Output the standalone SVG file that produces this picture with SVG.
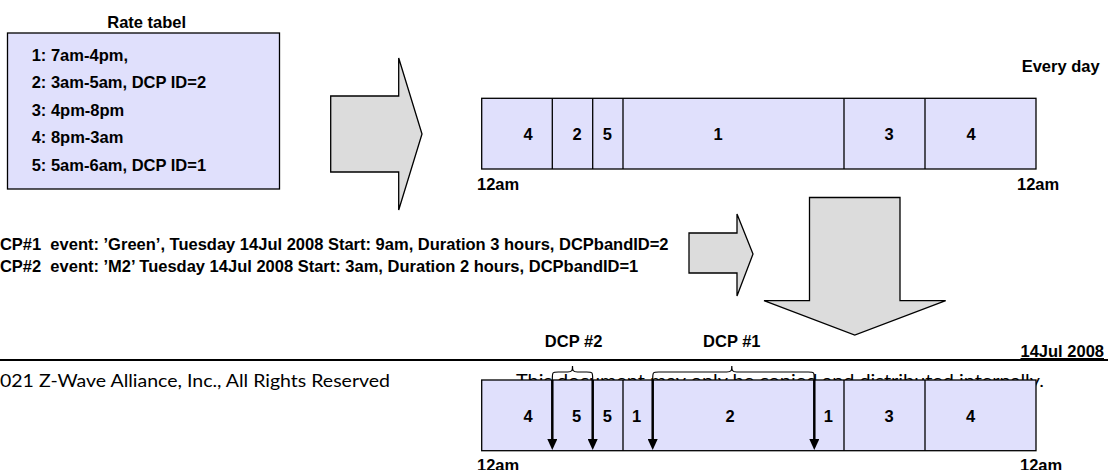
<svg xmlns="http://www.w3.org/2000/svg" width="1108" height="470" viewBox="0 0 1108 470">
  <defs>
    <style>
      .b{font-family:"Liberation Sans",Arial,sans-serif;font-weight:bold;font-size:16.5px;fill:#000}
      .c{text-anchor:middle}
      .e{text-anchor:end}
      .pre{white-space:pre}
      .f{font-family:Lato,"Open Sans",sans-serif;font-size:17px;fill:#000}
      .box{fill:#e0e0fc;stroke:#000;stroke-width:1.3}
      .arw{fill:#dcdcdc;stroke:#000;stroke-width:1.3;stroke-linejoin:miter}
      .seg{stroke:#000;stroke-width:1.3;fill:none}
      .ptr{stroke:#000;stroke-width:2.5;fill:none;marker-end:url(#head)}
      .brace{stroke:#000;stroke-width:1.2;fill:none}
    </style>
    <marker id="head" viewBox="0 0 10 11" refX="5" refY="6" markerWidth="10" markerHeight="11" markerUnits="userSpaceOnUse" orient="0">
      <path d="M0,0 L10,0 L5,11 Z" fill="#000"/>
    </marker>
  </defs>

  <!-- page header rule and footer texts -->
  <g id="page">
    <line x1="0" y1="360" x2="1108" y2="360" stroke="#000" stroke-width="2"/>
    <text class="b e" x="1104" y="357" text-decoration="underline">14Jul 2008</text>
    <text class="f" x="0" y="387" textLength="390" lengthAdjust="spacingAndGlyphs">021 Z-Wave Alliance, Inc., All Rights Reserved</text>
    <text class="f" x="516" y="387" textLength="528" lengthAdjust="spacingAndGlyphs">This document may only be copied and distributed internally.</text>
  </g>

  <!-- rate table -->
  <g id="rate-table">
    <text class="b c" x="146.7" y="28">Rate tabel</text>
    <rect class="box" x="7.5" y="33" width="272" height="156"/>
    <text class="b" x="31.7" y="61">1: 7am-4pm,</text>
    <text class="b" x="31.7" y="88">2: 3am-5am, DCP ID=2</text>
    <text class="b" x="31.7" y="116">3: 4pm-8pm</text>
    <text class="b" x="31.7" y="143">4: 8pm-3am</text>
    <text class="b" x="31.7" y="171">5: 5am-6am, DCP ID=1</text>
  </g>

  <!-- block arrows -->
  <g id="arrow-right-large">
    <path class="arw" d="M330.7,96 L398.7,96 L398.7,58 L422,134 L398.7,210 L398.7,172 L330.7,172 Z"/>
  </g>
  <g id="arrow-right-small">
    <path class="arw" d="M689,233 L737,233 L737,214 L753,254 L737,296 L737,273 L689,273 Z"/>
  </g>
  <g id="arrow-down">
    <path class="arw" d="M809.5,197.5 L900,197.5 L900,300.7 L945.7,300.7 L854.75,335 L764,300.7 L809.5,300.7 Z"/>
  </g>

  <!-- every-day schedule -->
  <g id="daily-bar">
    <text class="b" x="1021.7" y="72">Every day</text>
    <rect class="box" x="481.7" y="98.3" width="554.3" height="70.7"/>
    <path class="seg" d="M552.3,98.3V169M592.7,98.3V169M623,98.3V169M844,98.3V169M925,98.3V169"/>
    <text class="b c" x="528" y="140">4</text>
    <text class="b c" x="577" y="140">2</text>
    <text class="b c" x="607.3" y="140">5</text>
    <text class="b c" x="718" y="140">1</text>
    <text class="b c" x="889" y="140">3</text>
    <text class="b c" x="971" y="140">4</text>
    <text class="b" x="477" y="190">12am</text>
    <text class="b" x="1017" y="190">12am</text>
  </g>

  <!-- event descriptions -->
  <g id="events">
    <text class="b pre" x="-12" y="250">DCP#1  event: ’Green’, Tuesday 14Jul 2008 Start: 9am, Duration 3 hours, DCPbandID=2</text>
    <text class="b pre" x="-12" y="272">DCP#2  event: ’M2’ Tuesday 14Jul 2008 Start: 3am, Duration 2 hours, DCPbandID=1</text>
  </g>

  <!-- schedule for 14 Jul 2008 -->
  <g id="day-bar">
    <rect class="box" x="481.7" y="380" width="554.3" height="70.7"/>
    <path class="seg" d="M623,380V450.7M844,380V450.7M925,380V450.7"/>
    <text class="b c" x="528" y="422">4</text>
    <text class="b c" x="576.7" y="422">5</text>
    <text class="b c" x="607.3" y="422">5</text>
    <text class="b c" x="636.7" y="422">1</text>
    <text class="b c" x="730" y="422">2</text>
    <text class="b c" x="828.3" y="422">1</text>
    <text class="b c" x="889" y="422">3</text>
    <text class="b c" x="970.7" y="422">4</text>
    <text class="b" x="477" y="471">12am</text>
    <text class="b" x="1020" y="471">12am</text>
  </g>

  <!-- DCP event markers -->
  <g id="dcp2">
    <text class="b c" x="573.6" y="347">DCP #2</text>
  </g>
  <g id="dcp1">
    <text class="b c" x="731.8" y="347">DCP #1</text>
  </g>
  <g id="connectors">
    <path class="brace" d="M552.3,380 C552.3,372 552.3,372 558.3,372 L567.5,372 C572.5,372 572.5,370 572.5,366 C572.5,370 572.5,372 577.5,372 L586.7,372 C592.7,372 592.7,372 592.7,380"/>
    <path class="brace" d="M652.7,380 C652.7,372 652.7,372 658.7,372 L726.8,372 C731.8,372 731.8,370 731.8,366 C731.8,370 731.8,372 736.8,372 L808.3,372 C814.3,372 814.3,372 814.3,380"/>
    <line class="ptr" x1="552.3" y1="380" x2="552.3" y2="445"/>
    <line class="ptr" x1="592.7" y1="380" x2="592.7" y2="445"/>
    <line class="ptr" x1="652.7" y1="380" x2="652.7" y2="445"/>
    <line class="ptr" x1="814.3" y1="380" x2="814.3" y2="445"/>
  </g>
</svg>
